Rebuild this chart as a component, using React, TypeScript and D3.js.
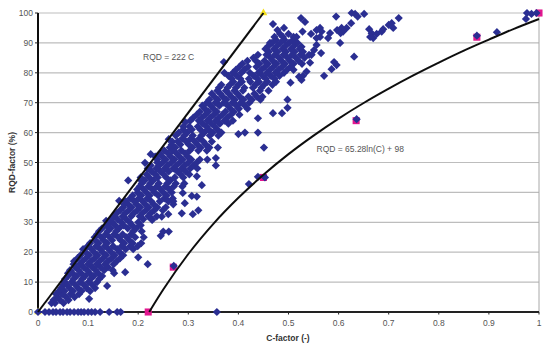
import React from 'react';
import * as d3 from 'd3';

const width = 550;
const height = 350;

const xTicks = [0, 0.1, 0.2, 0.3, 0.4, 0.5, 0.6, 0.7, 0.8, 0.9, 1];
const yTicks = [0, 10, 20, 30, 40, 50, 60, 70, 80, 90, 100];

// main cloud, one RQD level at a time (levels 3, 4, ... 93)
const firstLevel = 3;
const cAtLevel = [
  [0.027, 0.034, 0.051],
  [0.031, 0.044, 0.061],
  [0.039, 0.056, 0.073],
  [0.036, 0.048, 0.065, 0.082],
  [0.042, 0.053, 0.07, 0.087, 0.104],
  [0.046, 0.063, 0.08, 0.097, 0.114],
  [0.05, 0.058, 0.075, 0.092, 0.109],
  [0.053, 0.067, 0.084, 0.101, 0.118],
  [0.054, 0.071, 0.088, 0.105, 0.122],
  [0.06, 0.077, 0.094, 0.111, 0.128],
  [0.06, 0.069, 0.086, 0.103, 0.12],
  [0.064, 0.081, 0.098, 0.115, 0.132, 0.149],
  [0.074, 0.091, 0.108, 0.125, 0.14],
  [0.071, 0.083, 0.1, 0.117, 0.134, 0.151],
  [0.072, 0.089, 0.106, 0.123, 0.14, 0.157],
  [0.079, 0.096, 0.113, 0.13, 0.147, 0.164],
  [0.085, 0.102, 0.119, 0.136, 0.153, 0.17],
  [0.095, 0.112, 0.129, 0.146, 0.163],
  [0.09, 0.107, 0.124, 0.141, 0.158, 0.175, 0.19],
  [0.099, 0.116, 0.133, 0.15, 0.167, 0.184, 0.199],
  [0.104, 0.121, 0.138, 0.172, 0.189, 0.206],
  [0.114, 0.131, 0.148, 0.165, 0.182],
  [0.113, 0.126, 0.143, 0.16, 0.177, 0.194, 0.211],
  [0.118, 0.135, 0.152, 0.169, 0.186],
  [0.122, 0.139, 0.156, 0.19, 0.207],
  [0.128, 0.145, 0.162, 0.179, 0.196],
  [0.137, 0.154, 0.171, 0.188, 0.205],
  [0.144, 0.149, 0.166, 0.183, 0.2],
  [0.146, 0.159, 0.176, 0.21, 0.227],
  [0.152, 0.169, 0.186, 0.203, 0.22, 0.237],
  [0.157, 0.174, 0.191, 0.208, 0.225],
  [0.164, 0.181, 0.198, 0.215, 0.232, 0.249],
  [0.17, 0.187, 0.204, 0.221, 0.238, 0.255],
  [0.172, 0.18, 0.197, 0.214, 0.231],
  [0.175, 0.192, 0.209, 0.226, 0.243, 0.26, 0.27],
  [0.184, 0.201, 0.218, 0.252, 0.269],
  [0.189, 0.206, 0.223, 0.24, 0.257],
  [0.199, 0.216, 0.233, 0.25, 0.267],
  [0.198, 0.211, 0.228, 0.245, 0.262],
  [0.203, 0.22, 0.237, 0.254, 0.271, 0.288],
  [0.207, 0.224, 0.241, 0.258, 0.275, 0.292],
  [0.206, 0.213, 0.23, 0.264],
  [0.205, 0.222, 0.239, 0.256, 0.273, 0.29],
  [0.217, 0.234, 0.251, 0.285, 0.302],
  [0.227, 0.244, 0.261, 0.278, 0.295],
  [0.219, 0.236, 0.253, 0.27, 0.287, 0.304, 0.318],
  [0.225, 0.242, 0.259, 0.276, 0.293, 0.31],
  [0.238, 0.249, 0.266, 0.283, 0.3, 0.317],
  [0.238, 0.255, 0.272, 0.289, 0.306, 0.323, 0.338],
  [0.234, 0.248, 0.265, 0.282, 0.299],
  [0.243, 0.26, 0.277, 0.294],
  [0.252, 0.269, 0.286, 0.303, 0.32, 0.337],
  [0.263, 0.274, 0.308, 0.325, 0.342, 0.359],
  [0.267, 0.284, 0.301, 0.318, 0.335],
  [0.268, 0.279, 0.296, 0.313, 0.33, 0.347],
  [0.288, 0.305, 0.322],
  [0.275, 0.292, 0.309, 0.326, 0.343, 0.36],
  [0.281, 0.298, 0.332, 0.349, 0.366],
  [0.29, 0.307, 0.324, 0.341, 0.358],
  [0.29, 0.302, 0.319, 0.336, 0.353],
  [0.329, 0.346, 0.363, 0.38],
  [0.304, 0.321, 0.338, 0.355, 0.372, 0.389],
  [0.31, 0.327, 0.344, 0.361, 0.378],
  [0.317, 0.334, 0.351, 0.368, 0.385, 0.402],
  [0.323, 0.34, 0.357, 0.374, 0.391],
  [0.333, 0.35, 0.384, 0.401, 0.418],
  [0.328, 0.345, 0.362, 0.379, 0.396, 0.413],
  [0.337, 0.354, 0.371, 0.388, 0.405, 0.422],
  [0.342, 0.359, 0.376, 0.393, 0.41, 0.427, 0.444],
  [0.352, 0.369, 0.386, 0.403, 0.42, 0.437, 0.448],
  [0.347, 0.364, 0.381, 0.398, 0.432],
  [0.358, 0.375, 0.392, 0.409, 0.443, 0.46],
  [0.361, 0.378, 0.395, 0.412, 0.429, 0.446],
  [0.366, 0.383, 0.4, 0.434, 0.451, 0.468],
  [0.39, 0.407, 0.424, 0.441, 0.458, 0.475],
  [0.387, 0.404, 0.421, 0.438, 0.455, 0.472],
  [0.38, 0.397, 0.431, 0.448, 0.465, 0.482],
  [0.372, 0.389, 0.406, 0.423, 0.44, 0.457, 0.474, 0.491],
  [0.395, 0.412, 0.446, 0.463, 0.48, 0.497, 0.51],
  [0.402, 0.419, 0.436, 0.453, 0.47, 0.487, 0.504],
  [0.408, 0.442, 0.459, 0.476, 0.493, 0.51, 0.527],
  [0.418, 0.435, 0.452, 0.469, 0.486, 0.503, 0.52],
  [0.43, 0.464, 0.481, 0.498, 0.515, 0.532],
  [0.439, 0.456, 0.473, 0.49, 0.507, 0.524, 0.541],
  [0.461, 0.478, 0.495, 0.512, 0.529],
  [0.454, 0.471, 0.488, 0.505, 0.522],
  [0.46, 0.477, 0.494, 0.511],
  [0.467, 0.484, 0.501, 0.518],
  [0.475, 0.492, 0.509],
  [0.472, 0.489, 0.51],
  [0.483, 0.5],
];

// single points outside the dense band
const cSingles = [
  0.371, 0.225, 0.2135, 0.261, 0.294, 0.469, 0.463, 0.451, 0.439, 0.413, 0.4, 0.439, 0.469, 0.525, 0.533, 0.595,
  0.626, 0.633, 0.638, 0.651, 0.72, 0.706, 0.7, 0.709, 0.661, 0.666, 0.669, 0.663, 0.676, 0.686, 0.689, 0.625,
  0.616, 0.606, 0.609, 0.597, 0.604, 0.603, 0.631, 0.565, 0.596, 0.591, 0.586, 0.571, 0.536, 0.529, 0.526, 0.521,
  0.504, 0.498, 0.498, 0.487, 0.583, 0.563, 0.556, 0.566, 0.556, 0.563, 0.579, 0.545, 0.491, 0.478, 0.528, 0.516,
  0.509, 0.526, 0.556, 0.551, 0.546, 0.543, 0.355, 0.355, 0.876, 0.916, 0.974, 0.976, 0.985, 0.995, 0.636, 0.421,
  0.439, 0.453, 0.271, 0.219, 0.174, 0.138, 0.102, 0.152, 0.2, 0.25, 0.245, 0.261, 0.228, 0.247, 0.26, 0.287,
  0.309, 0.32, 0.293, 0.27, 0.307, 0.317, 0.327, 0.317, 0.289, 0.18, 0.162, 0.136,
];
const rqdSingles = [
  83.6, 52.8, 49.9, 57.8, 63.5, 96.3, 90, 55, 60, 60, 59.5, 64.8, 66.5, 98.3, 97, 98.8,
  100, 99.7, 98.8, 99.7, 98.3, 96.6, 96, 95, 94.6, 93.2, 91.6, 92, 93, 93.8, 94.6, 96.6,
  95, 95, 93.8, 94.3, 93.3, 90, 85.4, 86.6, 82.6, 83.6, 81.2, 79, 80.4, 79, 77.6, 78.7,
  76.7, 71, 68.3, 66.5, 93.3, 95, 94.3, 93.8, 91.6, 92, 91.6, 93, 95, 94.3, 93.8, 92,
  90.4, 88.7, 89.3, 87.6, 86, 83.4, 49, 51.5, 92.4, 93.6, 98, 100, 99.7, 100, 64.5, 42.8,
  45.2, 45, 15.4, 16, 13.3, 8.7, 4.4, 13, 18.3, 26.9, 25.5, 26.9, 30.8, 31.9, 32.7, 33,
  32.7, 34, 36.4, 36, 38.8, 38.6, 42.4, 45.4, 39.8, 44, 37.2, 30.5,
];

// samples with RQD = 0, along the axis
const cZero = [
  0, 0.014, 0.022, 0.03, 0.036, 0.044, 0.05, 0.058, 0.064, 0.072, 0.08, 0.086, 0.092, 0.1, 0.107, 0.114, 0.124,
  0.142, 0.158, 0.165, 0.357,
];

// pink squares on the fitted curve
const cFitPoints = [0.22, 0.27, 0.45, 0.635, 0.876, 1];
const rqdFitPoints = [0, 15, 45, 64, 91.9, 100];

// RQD = 222 C, ends marked with yellow triangles
const cUpper = [0, 0.45];
const rqdUpper = [0, 100];

// RQD = 65.28ln(C) + 98
const cCurve = [0.222, 0.25, 0.3, 0.35, 0.4, 0.45, 0.5, 0.55, 0.6, 0.65, 0.7, 0.75, 0.8, 0.85, 0.9, 0.95, 1];
const rqdCurve = [0, 7.5, 19.4, 29.5, 38.2, 45.9, 52.8, 59, 64.7, 69.9, 74.7, 79.2, 83.4, 87.4, 91.1, 94.7, 98];

const BLUE = '#2b2f92';
const PINK = '#e2188f';
const GRID = '#bdbdbd';
const LABEL = '#555555';
const FONT = '"Liberation Sans", Arial, sans-serif';

const x = d3.scaleLinear().domain([0, 1]).range([38, 539]);
const y = d3.scaleLinear().domain([0, 100]).range([312, 13]);

const square = d3.symbol().type(d3.symbolSquare).size(34)() as string;
const pinkSquare = d3.symbol().type(d3.symbolSquare).size(50)() as string;
const triangle = d3.symbol().type(d3.symbolTriangle).size(26)() as string;

const upperLine = d3.line<number>().x((d) => x(d)).y((_, i) => y(rqdUpper[i]));
const curveLine = d3
  .line<number>()
  .x((d) => x(d))
  .y((_, i) => y(rqdCurve[i]))
  .curve(d3.curveMonotoneX);

const diamonds: [number, number][] = [];
cAtLevel.forEach((row, i) => {
  row.forEach((c) => diamonds.push([c, firstLevel + i]));
});
cSingles.forEach((c, i) => diamonds.push([c, rqdSingles[i]]));
cZero.forEach((c) => diamonds.push([c, 0]));

export default function App() {
  return (
    <svg
      width={width}
      height={height}
      style={{ position: 'absolute', left: 0, top: 0, background: '#fff', fontFamily: FONT }}
    >
      <defs>
        <filter id="soft" x="-5%" y="-5%" width="110%" height="110%">
          <feGaussianBlur stdDeviation="0.45" />
        </filter>
      </defs>
      <g filter="url(#soft)">
        {yTicks.slice(1).map((t) => (
          <line key={t} x1={x(0)} x2={x(1)} y1={y(t)} y2={y(t)} stroke={GRID} strokeWidth={1.2} />
        ))}
        <line x1={x(1)} x2={x(1)} y1={y(100)} y2={y(0)} stroke="#a8a8a8" strokeWidth={1} />
        <line x1={x(0)} x2={x(1)} y1={y(0)} y2={y(0)} stroke="#222" strokeWidth={2} />
        <line x1={x(0)} x2={x(0)} y1={y(100)} y2={y(0)} stroke="#111" strokeWidth={2} />
        {yTicks.map((t) => (
          <line key={t} x1={x(0) - 3} x2={x(0)} y1={y(t)} y2={y(t)} stroke="#222" strokeWidth={1} />
        ))}
        {xTicks.map((t) => (
          <line key={t} x1={x(t)} x2={x(t)} y1={y(0)} y2={y(0) + 2.5} stroke="#222" strokeWidth={1} />
        ))}

        {cFitPoints.map((c, i) => (
          <path key={c} d={pinkSquare} transform={`translate(${x(c)},${y(rqdFitPoints[i])})`} fill={PINK} />
        ))}
        {cUpper.map((c, i) => (
          <path key={c} d={triangle} transform={`translate(${x(c)},${y(rqdUpper[i])})`} fill="#f5e11e" />
        ))}
        {diamonds.map(([c, r], i) => (
          <path key={i} d={square} transform={`translate(${x(c)},${y(r)}) rotate(45)`} fill={BLUE} />
        ))}
        <path d={upperLine(cUpper) as string} fill="none" stroke="#111" strokeWidth={2} />
        <path d={curveLine(cCurve) as string} fill="none" stroke="#111" strokeWidth={2} />
      </g>

      <g fill={LABEL} fontSize={8.5}>
        {yTicks.map((t) => (
          <text key={t} x={33} y={y(t) + 3} textAnchor="end">
            {t}
          </text>
        ))}
        {xTicks.map((t) => (
          <text key={t} x={x(t)} y={326} textAnchor="middle">
            {t}
          </text>
        ))}
        <text x={143} y={60}>RQD = 222 C</text>
        <text x={316.5} y={152}>RQD = 65.28ln(C) + 98</text>
      </g>
      <text x={288} y={341} textAnchor="middle" fontSize={8.5} fontWeight="bold" fill="#333">
        C-factor (-)
      </text>
      <text
        transform={`translate(15,${(y(0) + y(100)) / 2}) rotate(-90)`}
        textAnchor="middle"
        fontSize={8.5}
        fontWeight="bold"
        fill="#333"
      >
        RQD-factor (%)
      </text>
    </svg>
  );
}
